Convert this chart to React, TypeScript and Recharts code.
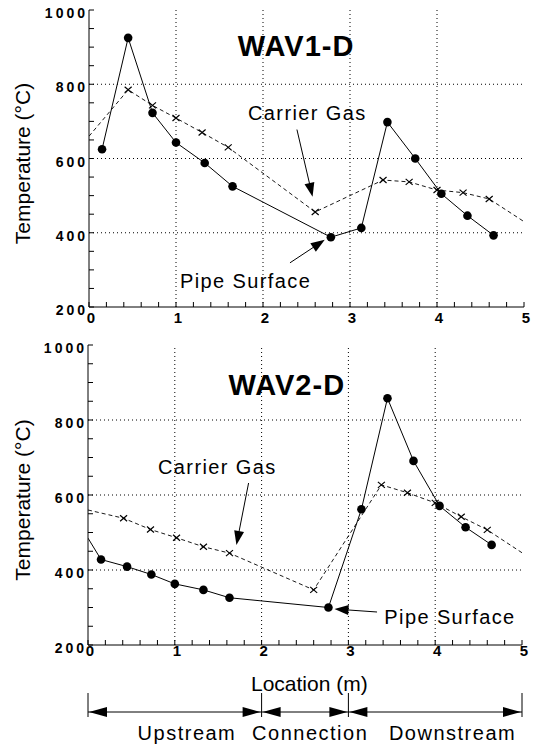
import React from 'react';
import { LineChart, Line, XAxis, YAxis, ReferenceLine, ReferenceDot } from 'recharts';

// WAV1-D (upper panel)
const wav1PipeX = [0.15, 0.45, 0.73, 1.0, 1.33, 1.65, 2.78, 3.13, 3.43, 3.75, 4.05, 4.35, 4.65];
const wav1PipeT = [625, 925, 723, 643, 588, 525, 388, 413, 698, 600, 505, 446, 393];
const wav1GasX = [0, 0.45, 0.73, 1.0, 1.3, 1.6, 2.6, 3.38, 3.68, 4.0, 4.3, 4.6, 5.0];
const wav1GasT = [660, 785, 743, 709, 670, 630, 456, 542, 537, 515, 508, 491, 430];

// WAV2-D (lower panel)
const wav2PipeX = [0, 0.15, 0.45, 0.73, 1.0, 1.33, 1.63, 2.77, 3.15, 3.45, 3.75, 4.05, 4.35, 4.65];
const wav2PipeT = [485, 428, 409, 388, 363, 347, 326, 300, 562, 858, 691, 571, 514, 467];
const wav2GasX = [0, 0.41, 0.72, 1.02, 1.33, 1.63, 2.6, 3.38, 3.68, 4.0, 4.3, 4.6, 5.0];
const wav2GasT = [560, 538, 508, 486, 462, 445, 347, 627, 606, 579, 542, 507, 446];

const xDomain = [0, 5];
const yDomain = [200, 1000];
const xTicks = Array.from({ length: 26 }, (_, i) => i / 5);
const yTicks = Array.from({ length: 17 }, (_, i) => 200 + i * 50);
const xGrid = [1, 2, 3, 4];
const yGrid = [400, 600, 800];

const regions = [
  { name: 'Upstream', from: 0, to: 2, labelAt: 1.14 },
  { name: 'Connection', from: 2, to: 3, labelAt: 2.56 },
  { name: 'Downstream', from: 3, to: 5, labelAt: 4.2 },
];

const FONT = '"Liberation Sans", Arial, Helvetica, sans-serif';

const rows = (xs: number[], ts: number[]) => xs.map((x, i) => ({ x, t: ts[i] }));

const panels = [
  {
    pipe: rows(wav1PipeX, wav1PipeT),
    gas: rows(wav1GasX, wav1GasT),
    title: { text: 'WAV1-D', x: 2.38, y: 877 },
    gasNote: { text: 'Carrier Gas', x: 2.51, y: 705 },
    pipeNote: { text: 'Pipe Surface', x: 1.8, y: 251 },
    arrows: [
      { x1: 2.39, y1: 678, x2: 2.57, y2: 497 },
      { x1: 2.31, y1: 319, x2: 2.71, y2: 381 },
    ],
  },
  {
    pipe: rows(wav2PipeX, wav2PipeT),
    gas: rows(wav2GasX, wav2GasT),
    title: { text: 'WAV2-D', x: 2.29, y: 867 },
    gasNote: { text: 'Carrier Gas', x: 1.49, y: 656 },
    pipeNote: { text: 'Pipe Surface', x: 4.17, y: 256 },
    arrows: [
      { x1: 1.85, y1: 632, x2: 1.71, y2: 467 },
      { x1: 3.33, y1: 288, x2: 2.84, y2: 296 },
    ],
  },
];

const head = (tx: number, ty: number, ux: number, uy: number, len = 14, hw = 5) => {
  const bx = tx - ux * len;
  const by = ty - uy * len;
  return `${tx},${ty} ${bx - uy * hw},${by + ux * hw} ${bx + uy * hw},${by - ux * hw}`;
};

const ArrowShape = (p: any) => {
  const { x1, y1, x2, y2 } = p;
  const len = Math.hypot(x2 - x1, y2 - y1) || 1;
  const ux = (x2 - x1) / len;
  const uy = (y2 - y1) / len;
  return (
    <g>
      <line x1={x1} y1={y1} x2={x2 - ux * 12} y2={y2 - uy * 12} stroke="#000" strokeWidth={1} />
      <polygon points={head(x2, y2, ux, uy)} fill="#000" />
    </g>
  );
};

const noteShape = (text: string, size: number, bold: boolean) => (p: any) => (
  <text
    x={p.cx}
    y={p.cy}
    textAnchor="middle"
    fontFamily={FONT}
    fontSize={size}
    fontWeight={bold ? 700 : 400}
    letterSpacing={bold ? 1 : 1.4}
    fill="#000"
  >
    {text}
  </text>
);

const circleDot = (p: any) => {
  if (p.payload.x === 0 || p.payload.x === 5) return <g key={`c${p.index}`} />;
  return <circle key={`c${p.index}`} cx={p.cx} cy={p.cy} r={4.3} fill="#000" />;
};

const crossDot = (p: any) => {
  if (p.payload.x === 0 || p.payload.x === 5) return <g key={`x${p.index}`} />;
  const { cx, cy } = p;
  return (
    <path
      key={`x${p.index}`}
      d={`M${cx - 3.5},${cy - 3} L${cx + 3.5},${cy + 3} M${cx - 3.5},${cy + 3} L${cx + 3.5},${cy - 3}`}
      stroke="#000"
      strokeWidth={1.2}
      fill="none"
    />
  );
};

const makeXTick = (dy: number) => (p: any) => {
  const v = p.payload.value;
  if (!Number.isInteger(v)) return <g />;
  return (
    <text x={p.x + 2} y={p.y + dy} textAnchor="middle" fontFamily={FONT} fontSize={15} fontWeight={700} fill="#000">
      {v}
    </text>
  );
};

const yTick = (p: any) => {
  const v = p.payload.value;
  if (v % 200 !== 0) return <g />;
  return (
    <text x={p.x - 6} y={p.y + 8} textAnchor="end" fontFamily={FONT} fontSize={14} fontWeight={700} letterSpacing={3} fill="#000">
      {v}
    </text>
  );
};

const emptyTick = () => <g />;

const TempLabel = (p: any) => {
  const vb = p.viewBox;
  const cx = vb.x + 30;
  const cy = vb.y + vb.height / 2 + 5;
  return (
    <text x={cx} y={cy} transform={`rotate(-90, ${cx}, ${cy})`} textAnchor="middle" fontFamily={FONT} fontSize={21} fill="#000">
      Temperature (°C)
    </text>
  );
};

const LocationLabel = (p: any) => {
  const vb = p.viewBox;
  const px = (v: number) => vb.x + ((v - xDomain[0]) / (xDomain[1] - xDomain[0])) * vb.width;
  const ly = vb.y + 67;
  return (
    <g>
      <text x={px(2.55)} y={vb.y + 46} textAnchor="middle" fontFamily={FONT} fontSize={21} fill="#000">
        Location (m)
      </text>
      {[0, 2, 3, 5].map((v) => (
        <line key={v} x1={px(v)} y1={vb.y + 48} x2={px(v)} y2={vb.y + 72} stroke="#000" strokeWidth={1} />
      ))}
      {regions.map((r) => (
        <g key={r.name}>
          <line x1={px(r.from)} y1={ly} x2={px(r.to)} y2={ly} stroke="#000" strokeWidth={1} />
          <polygon points={head(px(r.from) + 1, ly, -1, 0, 18, 5)} fill="#000" />
          <polygon points={head(px(r.to) - 1, ly, 1, 0, 18, 5)} fill="#000" />
          <text x={px(r.labelAt)} y={vb.y + 95} textAnchor="middle" fontFamily={FONT} fontSize={20} letterSpacing={1.5} fill="#000">
            {r.name}
          </text>
        </g>
      ))}
    </g>
  );
};

const Panel = ({ cfg, height, margin, xAxisHeight, yAxisWidth, tickDy, withLocation }: any) => (
  <LineChart width={534} height={height} margin={margin}>
    <XAxis
      xAxisId="b"
      type="number"
      dataKey="x"
      domain={xDomain}
      ticks={xTicks}
      interval={0}
      allowDataOverflow
      height={xAxisHeight}
      tickSize={-5}
      tickMargin={0}
      tick={makeXTick(tickDy)}
      tickLine={{ stroke: '#000' }}
      axisLine={{ stroke: '#000' }}
      label={withLocation ? (p: any) => <LocationLabel {...p} /> : undefined}
    />
    <XAxis
      xAxisId="t"
      orientation="top"
      type="number"
      dataKey="x"
      domain={xDomain}
      ticks={xTicks}
      interval={0}
      allowDataOverflow
      height={0}
      tickSize={-5}
      tick={emptyTick}
      tickLine={{ stroke: '#000' }}
      axisLine={{ stroke: '#000' }}
    />
    <YAxis
      yAxisId="l"
      type="number"
      domain={yDomain}
      ticks={yTicks}
      interval={0}
      allowDataOverflow
      width={yAxisWidth}
      tickSize={-5}
      tickMargin={0}
      tick={yTick}
      tickLine={{ stroke: '#000' }}
      axisLine={{ stroke: '#000' }}
      label={(p: any) => <TempLabel {...p} />}
    />
    <YAxis
      yAxisId="r"
      orientation="right"
      type="number"
      domain={yDomain}
      ticks={yTicks}
      interval={0}
      allowDataOverflow
      width={0}
      tickSize={-5}
      tick={emptyTick}
      tickLine={{ stroke: '#000' }}
      axisLine={{ stroke: '#000' }}
    />
    {xGrid.map((v) => (
      <ReferenceLine key={`gx${v}`} xAxisId="b" yAxisId="l" x={v} stroke="#000" strokeWidth={1} strokeDasharray="1 3" />
    ))}
    {yGrid.map((v) => (
      <ReferenceLine key={`gy${v}`} xAxisId="b" yAxisId="l" y={v} stroke="#000" strokeWidth={1} strokeDasharray="1 3" />
    ))}
    <Line
      xAxisId="b"
      yAxisId="l"
      data={cfg.gas}
      dataKey="t"
      type="linear"
      stroke="#000"
      strokeWidth={0.9}
      strokeDasharray="4 3"
      dot={crossDot}
      isAnimationActive={false}
    />
    <Line
      xAxisId="b"
      yAxisId="l"
      data={cfg.pipe}
      dataKey="t"
      type="linear"
      stroke="#000"
      strokeWidth={1}
      dot={circleDot}
      isAnimationActive={false}
    />
    {cfg.arrows.map((a: any, i: number) => (
      <ReferenceLine
        key={`a${i}`}
        xAxisId="b"
        yAxisId="l"
        segment={[{ x: a.x1, y: a.y1 }, { x: a.x2, y: a.y2 }]}
        ifOverflow="visible"
        shape={ArrowShape}
      />
    ))}
    {[cfg.title, cfg.gasNote, cfg.pipeNote].map((n: any, i: number) => (
      <ReferenceDot
        key={`n${i}`}
        xAxisId="b"
        yAxisId="l"
        x={n.x}
        y={n.y}
        r={0}
        ifOverflow="visible"
        shape={noteShape(n.text, i === 0 ? 29 : 20, i === 0)}
      />
    ))}
  </LineChart>
);

export default function App() {
  return (
    <div style={{ position: 'absolute', left: 0, top: 0, width: 534, height: 745, background: '#fff' }}>
      <Panel
        cfg={panels[0]}
        height={330}
        margin={{ top: 10, right: 10, left: 0, bottom: 0 }}
        xAxisHeight={23}
        yAxisWidth={89}
        tickDy={21}
        withLocation={false}
      />
      <Panel
        cfg={panels[1]}
        height={415}
        margin={{ top: 15, right: 12, left: 0, bottom: 0 }}
        xAxisHeight={100}
        yAxisWidth={88}
        tickDy={16}
        withLocation
      />
    </div>
  );
}
